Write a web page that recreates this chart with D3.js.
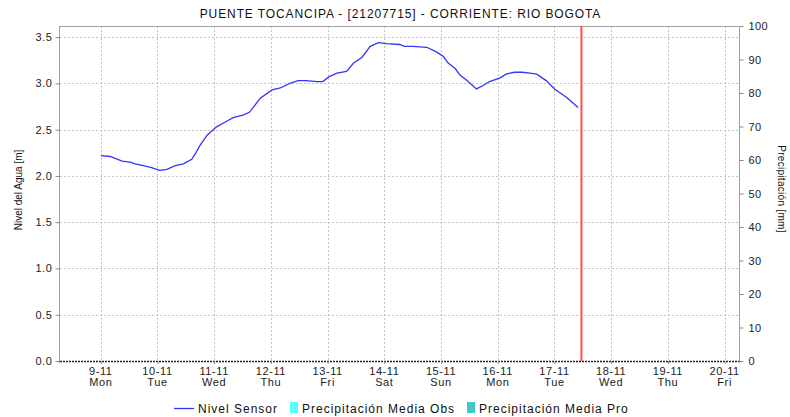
<!DOCTYPE html>
<html><head><meta charset="utf-8">
<script src="https://cdn.jsdelivr.net/npm/d3@7"></script>
<style>
html,body{margin:0;padding:0;background:#fff;}
svg{display:block;font-family:"Liberation Sans",Arial,sans-serif;}
</style></head>
<body>
<svg id="c" width="790" height="417"></svg>
<script>
const title = "PUENTE TOCANCIPA - [21207715] - CORRIENTE: RIO BOGOTA";
const leftTitle = "Nivel del Agua [m]";
const rightTitle = "Precipitación [mm]";
const legendLabels = ["Nivel Sensor", "Precipitación Media Obs", "Precipitación Media Pro"];
const legendColors = ["#3434ff", "#5cffff", "#40c8c8"];
const dayNames = ["Sun","Mon","Tue","Wed","Thu","Fri","Sat"];
const domainStart = "2015-11-08 06:45";
const domainEnd = "2015-11-20 06:05";
const nowTime = "2015-11-17 11:24";
const leftTicks = [0.0, 0.5, 1.0, 1.5, 2.0, 2.5, 3.0, 3.5];
const rightTicks = [0, 10, 20, 30, 40, 50, 60, 70, 80, 90, 100];
const times = [
"2015-11-09 00:00","2015-11-09 04:00","2015-11-09 09:00","2015-11-09 12:30","2015-11-09 14:30","2015-11-09 18:00","2015-11-09 21:30",
"2015-11-10 01:00","2015-11-10 04:00","2015-11-10 07:30","2015-11-10 11:00","2015-11-10 14:30","2015-11-10 16:00","2015-11-10 18:00","2015-11-10 21:00",
"2015-11-11 01:00","2015-11-11 04:30","2015-11-11 08:00","2015-11-11 12:30","2015-11-11 15:00","2015-11-11 19:30",
"2015-11-12 00:30","2015-11-12 04:00","2015-11-12 08:00","2015-11-12 11:30","2015-11-12 15:00","2015-11-12 19:30","2015-11-12 22:00",
"2015-11-13 00:30","2015-11-13 04:00","2015-11-13 08:00","2015-11-13 11:00","2015-11-13 14:30","2015-11-13 18:00","2015-11-13 21:30",
"2015-11-14 01:00","2015-11-14 06:30","2015-11-14 08:30","2015-11-14 12:00","2015-11-14 18:00","2015-11-14 22:00",
"2015-11-15 01:00","2015-11-15 03:00","2015-11-15 06:00","2015-11-15 08:00","2015-11-15 11:00","2015-11-15 15:00","2015-11-15 18:00","2015-11-15 20:30",
"2015-11-16 01:00","2015-11-16 03:30","2015-11-16 07:00","2015-11-16 10:30","2015-11-16 13:30","2015-11-16 16:30","2015-11-16 20:30",
"2015-11-17 00:00","2015-11-17 05:00","2015-11-17 10:00"];
const levels = [
2.22,2.21,2.16,2.15,2.13,2.11,2.09,
2.06,2.07,2.11,2.13,2.18,2.24,2.33,2.44,
2.53,2.58,2.63,2.66,2.69,2.84,
2.93,2.95,3.00,3.03,3.03,3.02,3.02,
3.07,3.11,3.13,3.22,3.28,3.40,3.44,
3.43,3.42,3.40,3.40,3.39,3.34,
3.29,3.22,3.16,3.09,3.03,2.94,2.98,3.02,
3.06,3.10,3.12,3.12,3.11,3.10,3.03,
2.94,2.85,2.74];

const parse = d3.timeParse("%Y-%m-%d %H:%M");
const L = 60, R = 739, T = 26, B = 361;
const svg = d3.select("#c");

const x = d3.scaleTime().domain([parse(domainStart), parse(domainEnd)]).range([L, R]);
const y = d3.scaleLinear().domain([0, 3.62]).range([B, T]);
const y2 = d3.scaleLinear().domain([0, 100]).range([B, T]);
const days = d3.timeDay.range(d3.timeDay.ceil(x.domain()[0]), x.domain()[1]);

// grid
const g = svg.append("g");
g.selectAll(".hg").data(leftTicks.filter(d => d > 0)).join("line")
  .attr("x1", L).attr("x2", R).attr("y1", d => Math.round(y(d)) + 0.5).attr("y2", d => Math.round(y(d)) + 0.5)
  .attr("stroke", "#c4c4c4").attr("stroke-dasharray", "2,2");
g.selectAll(".vg").data(days).join("line")
  .attr("y1", T).attr("y2", B).attr("x1", d => Math.round(x(d)) + 0.5).attr("x2", d => Math.round(x(d)) + 0.5)
  .attr("stroke", "#c4c4c4").attr("stroke-dasharray", "2,2");

// frame
svg.append("line").attr("x1", L).attr("x2", R).attr("y1", T + 0.5).attr("y2", T + 0.5).attr("stroke", "#a0a0a0");
svg.append("line").attr("x1", L - 0.5).attr("x2", L - 0.5).attr("y1", T).attr("y2", B + 2).attr("stroke", "#a0a0a0");
svg.append("line").attr("x1", R + 0.5).attr("x2", R + 0.5).attr("y1", T).attr("y2", B + 2).attr("stroke", "#a0a0a0");
svg.append("line").attr("x1", L).attr("x2", R).attr("y1", B + 0.5).attr("y2", B + 0.5).attr("stroke", "#222").attr("stroke-width", 1.4).attr("stroke-dasharray", "2,1");

// left axis
const la = svg.append("g").attr("transform", `translate(${L - 0.5},0)`)
  .call(d3.axisLeft(y).tickValues(leftTicks).tickFormat(d3.format(".1f")).tickSize(4).tickPadding(3));
la.select(".domain").remove();
la.selectAll("line").attr("stroke", "#888");
la.selectAll("text").attr("font-size", 11).attr("fill", "#222").attr("letter-spacing", 0.6).attr("font-family", "Liberation Sans, Arial, sans-serif");

// right axis
const ra = svg.append("g").attr("transform", `translate(${R + 0.5},0)`)
  .call(d3.axisRight(y2).tickValues(rightTicks).tickSize(4).tickPadding(5));
ra.select(".domain").remove();
ra.selectAll("line").attr("stroke", "#888");
ra.selectAll("text").attr("font-size", 11).attr("fill", "#222").attr("letter-spacing", 0.4).attr("font-family", "Liberation Sans, Arial, sans-serif");

// bottom axis
const ba = svg.append("g").attr("transform", `translate(0,${B})`)
  .call(d3.axisBottom(x).tickValues(days).tickSize(3).tickFormat(""));
ba.select(".domain").remove();
ba.selectAll("line").attr("stroke", "#888");
const fmtDM = d3.timeFormat("%-d-%m");
const lbl = svg.append("g").attr("font-size", 11).attr("fill", "#222").attr("text-anchor", "middle").attr("letter-spacing", 0.6);
lbl.selectAll(".d1").data(days).join("text").attr("x", d => x(d)).attr("y", 375).text(d => fmtDM(d).replace(/-0?/, "-"));
lbl.selectAll(".d2").data(days).join("text").attr("x", d => x(d)).attr("y", 386).text(d => dayNames[d.getDay()]);

// series
const data = times.map((t, i) => ({t: parse(t), v: levels[i]}));
svg.append("path").datum(data)
  .attr("d", d3.line().x(d => x(d.t)).y(d => y(d.v)))
  .attr("fill", "none").attr("stroke", legendColors[0]).attr("stroke-width", 1.3);

// now line
svg.append("line").attr("x1", x(parse(nowTime))).attr("x2", x(parse(nowTime)))
  .attr("y1", T).attr("y2", B).attr("stroke", "#ff5050").attr("stroke-width", 2);

// titles
svg.append("text").attr("x", 400.5).attr("y", 18).attr("text-anchor", "middle")
  .attr("font-size", 12).attr("letter-spacing", 0.9).attr("fill", "#111").text(title);
svg.append("text").attr("transform", "translate(22,190) rotate(-90)").attr("text-anchor", "middle")
  .attr("font-size", 10).attr("fill", "#111").text(leftTitle);
svg.append("text").attr("transform", "translate(778,189) rotate(90)").attr("text-anchor", "middle")
  .attr("font-size", 10).attr("letter-spacing", 0.3).attr("fill", "#111").text(rightTitle);

// legend
const lg = svg.append("g").attr("font-size", 12).attr("letter-spacing", 1).attr("fill", "#111");
lg.append("line").attr("x1", 174).attr("x2", 194).attr("y1", 408.5).attr("y2", 408.5).attr("stroke", legendColors[0]).attr("stroke-width", 1.3);
lg.append("text").attr("x", 198).attr("y", 412.5).text(legendLabels[0]);
lg.append("rect").attr("x", 290).attr("y", 402).attr("width", 8).attr("height", 11).attr("fill", legendColors[1]);
lg.append("text").attr("x", 302).attr("y", 412.5).text(legendLabels[1]);
lg.append("rect").attr("x", 467).attr("y", 402).attr("width", 8).attr("height", 11).attr("fill", legendColors[2]);
lg.append("text").attr("x", 479).attr("y", 412.5).text(legendLabels[2]);
</script>
</body></html>
